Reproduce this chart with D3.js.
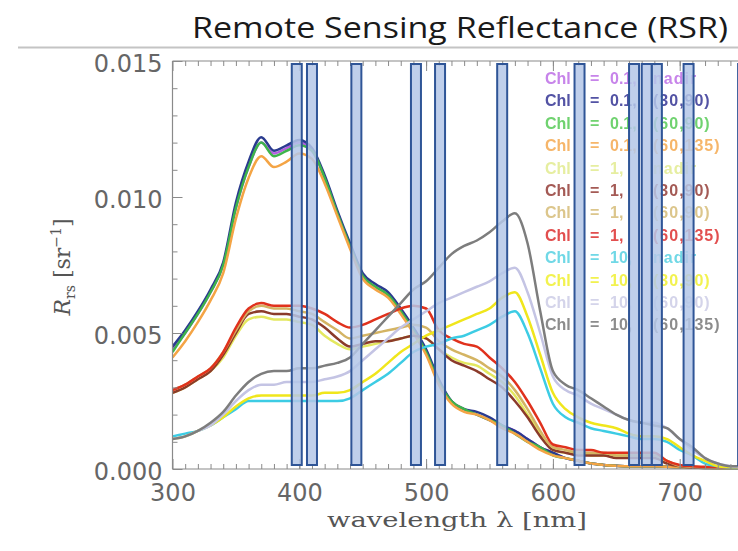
<!DOCTYPE html>
<html><head><meta charset="utf-8">
<script src="https://cdn.jsdelivr.net/npm/d3@7"></script>
<style>
html,body{margin:0;padding:0;background:#fff;}
svg{display:block;}
</style></head>
<body><svg id="c" width="738" height="551"></svg>
<script>
// ---------------- data ----------------
const titleText = "Remote Sensing Reflectance (RSR)";
const wavelengths = d3.range(300, 751, 10); // 300..750 nm
const xTickValues = [300, 400, 500, 600, 700];
const yTickValues = [0.000, 0.005, 0.010, 0.015];
const bandCenters = [398, 410, 445, 492, 511, 560, 621, 664, 674, 682, 707, 750];

const legendLabels = [
  ["0.1,", "nadir"], ["0.1,", "(30,90)"], ["0.1,", "(60,90)"], ["0.1,", "(60,135)"],
  ["1,", "nadir"], ["1,", "(30,90)"], ["1,", "(60,90)"], ["1,", "(60,135)"],
  ["10,", "nadir"], ["10,", "(30,90)"], ["10,", "(60,90)"], ["10,", "(60,135)"]
];

const chl01_nadir = [.0044,.0050,.0057,.0065,.0075,.0096,.0111,.0120,.0116,.0118,.0120,.0117,.0107,.0094,.0082,.0071,.0067,.0064,.0058,.0051,.0043,.0032,.0025,.0022,.0020,.0018,.0016,.0014,.0011,.0008,.0006,.0004,.0003,.0002,.00015,.00012,.0001,.0001,.0001,.00008,.00006,.00005,.00004,.00003,.00003,.00003];
const chl01_30_90 = [.0045,.0051,.0058,.0066,.0076,.0098,.0113,.0122,.0117,.0119,.0121,.0118,.0108,.0095,.0083,.0072,.0068,.0065,.0059,.0052,.0044,.0033,.0025,.0022,.0021,.0019,.0016,.0014,.0011,.0008,.0006,.0004,.0003,.0002,.00015,.00012,.0001,.0001,.0001,.00008,.00006,.00005,.00004,.00003,.00003,.00003];
const chl01_60_90 = [.0043,.0050,.0057,.0065,.0075,.0096,.0111,.0120,.0115,.0117,.0119,.0117,.0107,.0094,.0082,.0071,.0067,.0064,.0058,.0051,.0043,.0032,.0025,.0022,.0020,.0018,.0016,.0013,.0010,.0008,.0005,.0004,.0003,.0002,.00015,.00012,.0001,.0001,.0001,.00008,.00006,.00005,.00004,.00003,.00003,.00003];
const chl01_60_135 = [.0041,.0047,.0054,.0062,.0072,.0092,.0107,.0115,.0111,.0113,.0116,.0114,.0105,.0093,.0081,.0070,.0066,.0063,.0057,.0050,.0042,.0031,.0024,.0021,.0020,.0018,.0015,.0013,.0010,.0007,.0005,.0004,.0003,.0002,.00015,.00012,.0001,.0001,.0001,.00008,.00006,.00005,.00004,.00003,.00003,.00003];

const chl1_nadir = [.0028,.0030,.0033,.0036,.0041,.0049,.0055,.0056,.0055,.0055,.0054,.0053,.0049,.0046,.0044,.0045,.0046,.0047,.0048,.0049,.0048,.0044,.0041,.0039,.0038,.0035,.0032,.0027,.0020,.0013,.0007,.0006,.0006,.0005,.0005,.0005,.0005,.0005,.0005,.0003,.0001,.00008,.00006,.00005,.00005,.00005];
const chl1_30_90 = [.0028,.0030,.0033,.0036,.0042,.0050,.0057,.0058,.0057,.0057,.0056,.0055,.0052,.0048,.0045,.0046,.0047,.0047,.0048,.0049,.0048,.0044,.0040,.0038,.0036,.0033,.0030,.0025,.0019,.0012,.0007,.0006,.0005,.0005,.0005,.0004,.0004,.0004,.0004,.0002,.0001,.00005,.00005,.00005,.00005,.00005];
const chl1_60_90 = [.0029,.0031,.0034,.0037,.0043,.0051,.0058,.0060,.0059,.0059,.0058,.0057,.0054,.0051,.0048,.0049,.0050,.0051,.0052,.0053,.0052,.0047,.0044,.0042,.0040,.0037,.0034,.0029,.0022,.0014,.0008,.0007,.0006,.0006,.0006,.0005,.0005,.0005,.0005,.0003,.00012,.00008,.00006,.00005,.00005,.00005];
const chl1_60_135 = [.0029,.0031,.0034,.0037,.0043,.0052,.0059,.0061,.0060,.0060,.0060,.0059,.0057,.0054,.0052,.0053,.0055,.0057,.0059,.0060,.0059,.0051,.0048,.0046,.0045,.0041,.0037,.0032,.0025,.0017,.0009,.0008,.0007,.0007,.0006,.0006,.0006,.0006,.0006,.0003,.00015,.0001,.00008,.00006,.00005,.00005];

const chl10_nadir = [.0012,.0013,.0014,.0016,.0019,.0022,.0025,.0025,.0025,.0025,.0025,.0025,.0025,.0025,.0026,.0029,.0032,.0035,.0039,.0043,.0045,.0046,.0048,.0049,.0051,.0053,.0056,.0058,.0050,.0037,.0024,.0019,.0017,.0015,.0014,.0013,.0012,.0011,.0011,.0010,.0007,.0005,.0002,.0001,.00005,.00003];
const chl10_30_90 = [.0011,.0012,.0014,.0016,.0019,.0023,.0026,.0027,.0027,.0027,.0027,.0027,.0028,.0028,.0029,.0032,.0035,.0039,.0043,.0046,.0049,.0051,.0053,.0055,.0057,.0059,.0063,.0065,.0056,.0042,.0028,.0022,.0019,.0017,.0016,.0015,.0013,.0012,.0012,.0011,.0008,.0005,.0003,.0001,.00006,.00004];
const chl10_60_90 = [.0011,.0012,.0014,.0016,.0020,.0025,.0029,.0031,.0031,.0032,.0032,.0032,.0033,.0034,.0036,.0040,.0044,.0048,.0052,.0055,.0058,.0061,.0063,.0065,.0067,.0069,.0072,.0074,.0065,.0050,.0034,.0029,.0027,.0024,.0022,.0020,.0018,.0017,.0017,.0015,.0011,.0007,.0004,.0002,.0001,.00005];
const chl10_60_135 = [.0011,.0012,.0014,.0017,.0021,.0027,.0032,.0035,.0036,.0036,.0037,.0037,.0038,.0039,.0041,.0046,.0051,.0056,.0061,.0066,.0069,.0074,.0079,.0082,.0084,.0087,.0091,.0094,.0083,.0058,.0036,.0031,.0029,.0026,.0023,.0020,.0018,.0017,.0016,.0015,.0011,.0008,.0004,.0002,.0001,.0001];

const seriesValues = [chl01_nadir, chl01_30_90, chl01_60_90, chl01_60_135,
                      chl1_nadir, chl1_30_90, chl1_60_90, chl1_60_135,
                      chl10_nadir, chl10_30_90, chl10_60_90, chl10_60_135];

// ---------------- styles ----------------
const lineColors = ["#b45ee0","#2b3a8f","#3cb44b","#f4a444","#e4e860","#8b3a2a","#d4b464","#e0301e","#3ccce4","#f0e61a","#c4c4e4","#7d7d7d"];
const legendColors = ["#c784ea","#5252a4","#6fd26f","#f6b66a","#e6eea0","#a45a55","#dcc68c","#e25050","#70d8e6","#f2f250","#d4d4ea","#8c8c8c"];

const svg = d3.select("#c");
svg.append("rect").attr("width",738).attr("height",551).attr("fill","#fff");

const defs = svg.append("defs");
defs.append("clipPath").attr("id","plotclip").append("rect")
  .attr("x",173).attr("y",58).attr("width",570).attr("height",412);
defs.append("filter").attr("id","soft").append("feGaussianBlur").attr("stdDeviation",0.45);

// title + rule
svg.append("text").attr("x",192).attr("y",38)
  .attr("font-family","'Open Sans', 'Noto Sans', sans-serif").attr("font-size",30)
  .attr("fill","#1a1a1a").attr("textLength",536).attr("lengthAdjust","spacingAndGlyphs")
  .text(titleText);
svg.append("line").attr("x1",18).attr("x2",738).attr("y1",47.5).attr("y2",47.5)
  .attr("stroke","#c4c4c4").attr("stroke-width",2);

// scales
const x = d3.scaleLinear().domain([300,750]).range([172.5, 743.1]);
const y = d3.scaleLinear().domain([0,0.015]).range([469, 61]);

// lines
const line = d3.line().x((d,i)=>x(wavelengths[i])).y(d=>y(d)).curve(d3.curveMonotoneX);
const gl = svg.append("g").attr("clip-path","url(#plotclip)").attr("filter","url(#soft)");
seriesValues.forEach((vals,k)=>{
  gl.append("path").attr("d", line(vals)).attr("fill","none")
    .attr("stroke", lineColors[k]).attr("stroke-width",2.5).attr("stroke-linejoin","round");
});

// axes
const axisColor = "#8a8a8a", labelColor = "#666";
function styleAxis(g){
  g.select(".domain").remove();
  g.selectAll("line").attr("stroke",axisColor);
  g.selectAll("text").attr("fill",labelColor).attr("font-family","'DejaVu Sans', sans-serif").attr("font-size",24);
}
// frame
const frame = svg.append("g").attr("stroke",axisColor).attr("stroke-width",1.2);
frame.append("line").attr("x1",172.5).attr("x2",738).attr("y1",469).attr("y2",469);
frame.append("line").attr("x1",172.5).attr("x2",738).attr("y1",61).attr("y2",61);
frame.append("line").attr("x1",172.5).attr("x2",172.5).attr("y1",61).attr("y2",469);

svg.append("g").attr("transform","translate(0,469)")
  .call(d3.axisBottom(x).tickValues(xTickValues).tickSize(-10).tickPadding(15).tickFormat(d3.format("d")))
  .call(styleAxis);
svg.append("g").attr("transform","translate(0,469)")
  .call(d3.axisBottom(x).tickValues(d3.range(310,750,10)).tickSize(-5).tickFormat(""))
  .call(styleAxis);
svg.append("g").attr("transform","translate(0,61)")
  .call(d3.axisTop(x).tickValues(xTickValues).tickSize(-10).tickFormat(""))
  .call(styleAxis);
svg.append("g").attr("transform","translate(0,61)")
  .call(d3.axisTop(x).tickValues(d3.range(310,750,10)).tickSize(-5).tickFormat(""))
  .call(styleAxis);
svg.append("g").attr("transform","translate(172.5,0)")
  .call(d3.axisLeft(y).tickValues(yTickValues).tickSize(-10).tickPadding(10).tickFormat(d3.format(".3f")))
  .call(styleAxis)
  .selectAll("text").attr("dy","0.45em");
svg.append("g").attr("transform","translate(172.5,0)")
  .call(d3.axisLeft(y).tickValues(d3.range(1,15).filter(v=>v%5).map(v=>v/1000)).tickSize(-5).tickFormat(""))
  .call(styleAxis);

// axis titles
svg.append("text").attr("x",457).attr("y",527).attr("text-anchor","middle")
  .attr("font-family","'DejaVu Serif', serif").attr("font-size",21).attr("fill","#555")
  .attr("textLength",260).attr("lengthAdjust","spacingAndGlyphs")
  .text("wavelength λ [nm]");
const yt = svg.append("text").attr("transform","translate(70,267) rotate(-90)").attr("text-anchor","middle")
  .attr("font-family","'DejaVu Serif', serif").attr("font-size",22).attr("fill","#555");
yt.append("tspan").attr("font-style","italic").text("R");
yt.append("tspan").attr("font-size",14).attr("dy",5).text("rs");
yt.append("tspan").attr("dy",-5).text(" [sr");
yt.append("tspan").attr("font-size",14).attr("dy",-9).text("−1");
yt.append("tspan").attr("dy",9).text("]");

// legend
const lg = svg.append("g").attr("font-family","'Liberation Sans', Arial, sans-serif")
  .attr("font-weight","bold").attr("font-size",16);
legendLabels.forEach((lab,k)=>{
  const yy = 84 + k*22.4;
  const t = lg.append("g").attr("fill",legendColors[k]).attr("filter","url(#soft)");
  t.append("text").attr("x",545).attr("y",yy).text("Chl");
  t.append("text").attr("x",590).attr("y",yy).text("=");
  t.append("text").attr("x",610).attr("y",yy).text(lab[0]);
  t.append("text").attr("x",653).attr("y",yy).attr("letter-spacing",1).text(lab[1]);
});

// band bars
svg.append("g").selectAll("rect").data(bandCenters).join("rect")
  .attr("x",d=>x(d)-5).attr("width",10).attr("y",64).attr("height",401)
  .attr("fill","#b4c7e7").attr("fill-opacity",0.85)
  .attr("stroke","#2f5597").attr("stroke-width",2);
</script>
</body></html>
